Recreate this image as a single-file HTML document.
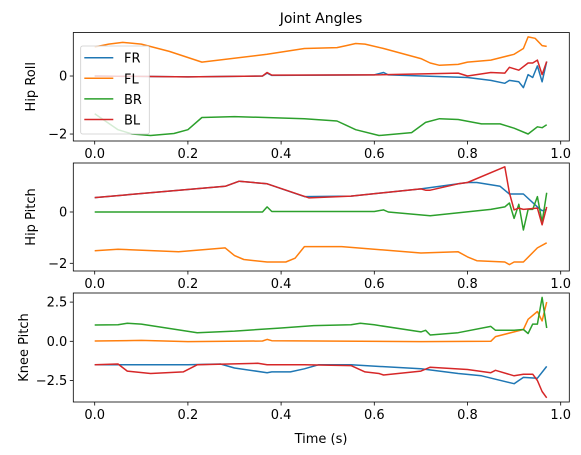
<!DOCTYPE html>
<html><head><meta charset="utf-8"><style>
body{margin:0;background:#fff}
svg{display:block;font-family:"DejaVu Sans","Liberation Sans",sans-serif}
</style></head><body>
<svg id="chart" width="581" height="455" viewBox="0 0 581 455">
<rect width="581" height="455" fill="#fff"/>
<text x="321" y="23" font-size="14" text-anchor="middle">Joint Angles</text>
</svg>
<script>
const tickX=[0,0.2,0.4,0.6,0.8,1.0];
const tickXLabels=["0.0","0.2","0.4","0.6","0.8","1.0"];
const seriesNames=["FR","FL","BR","BL"];
const panelTitles=["Hip Roll","Hip Pitch","Knee Pitch"];
const p1Ticks=[0,-2];const p1TickLabels=["0","−2"];
const p2Ticks=[0,-2];const p2TickLabels=["0","−2"];
const p3Ticks=[2.5,0,-2.5];const p3TickLabels=["2.5","0.0","−2.5"];

const hrFR_t=[0,0.2,0.36,0.37,0.38,0.6,0.62,0.63,0.8,0.85,0.88,0.89,0.91,0.92,0.93,0.94,0.95,0.96,0.97];
const hrFR_v=[0,-0.03,0,0.1,0.02,0.04,0.12,0.04,-0.05,-0.15,-0.25,-0.15,-0.2,-0.4,0.05,-0.05,0.35,-0.2,0.5];
const hrFL_t=[0,0.03,0.06,0.1,0.16,0.23,0.37,0.45,0.52,0.54,0.56,0.58,0.62,0.7,0.72,0.74,0.78,0.8,0.85,0.9,0.92,0.93,0.945,0.96,0.97];
const hrFL_v=[1.0,1.1,1.16,1.1,0.85,0.48,0.75,0.95,0.98,1.05,1.12,1.1,0.95,0.6,0.45,0.37,0.4,0.48,0.55,0.75,0.95,1.35,1.3,1.05,1.02];
const hrBR_t=[0,0.05,0.08,0.12,0.17,0.2,0.23,0.3,0.45,0.52,0.54,0.56,0.61,0.68,0.71,0.74,0.78,0.83,0.87,0.9,0.93,0.95,0.96,0.97];
const hrBR_v=[-1.3,-1.85,-2.0,-2.05,-1.98,-1.85,-1.43,-1.4,-1.47,-1.55,-1.7,-1.85,-2.05,-1.95,-1.6,-1.47,-1.5,-1.65,-1.65,-1.8,-2.0,-1.75,-1.78,-1.68];
const hrBL_t=[0,0.2,0.36,0.37,0.38,0.6,0.78,0.8,0.85,0.88,0.89,0.91,0.93,0.94,0.95,0.96,0.97];
const hrBL_v=[0,-0.03,0,0.12,0.03,0.04,0.1,0.0,0.12,0.1,0.3,0.2,0.45,0.45,0.55,0.05,0.5];

const hpFR_t=[0,0.28,0.31,0.37,0.45,0.55,0.7,0.8,0.82,0.87,0.89,0.92,0.95,0.96,0.97];
const hpFR_v=[0.56,1.0,1.2,1.1,0.6,0.62,0.9,1.15,1.15,1.0,0.7,0.7,0.2,0.05,0.1];
const hpFL_t=[0,0.05,0.18,0.28,0.3,0.32,0.37,0.41,0.43,0.45,0.53,0.7,0.78,0.8,0.82,0.88,0.89,0.9,0.92,0.95,0.97];
const hpFL_v=[-1.51,-1.45,-1.55,-1.4,-1.7,-1.85,-1.95,-1.95,-1.8,-1.35,-1.35,-1.6,-1.55,-1.75,-1.9,-1.95,-2.05,-1.95,-1.95,-1.4,-1.2];
const hpBR_t=[0,0.36,0.37,0.38,0.6,0.62,0.63,0.72,0.85,0.88,0.89,0.9,0.91,0.92,0.93,0.94,0.95,0.96,0.97];
const hpBR_v=[0,0,0.2,0.02,0.02,0.08,0,-0.15,0.1,0.2,0.35,-0.25,0.3,-0.7,0.1,0.1,0.6,-0.4,0.75];
const hpBL_t=[0,0.28,0.31,0.37,0.46,0.55,0.7,0.71,0.72,0.78,0.8,0.88,0.89,0.9,0.91,0.92,0.95,0.96,0.97];
const hpBL_v=[0.56,1.0,1.2,1.1,0.55,0.62,0.9,0.85,0.85,1.1,1.15,1.76,0.75,0.08,0.15,0.1,0.15,-0.5,0.2];

const kpFR_t=[0,0.2,0.27,0.3,0.37,0.38,0.42,0.45,0.48,0.55,0.7,0.78,0.83,0.9,0.92,0.95,0.97];
const kpFR_v=[-1.5,-1.5,-1.45,-1.7,-2.0,-1.95,-1.95,-1.75,-1.5,-1.5,-1.75,-2.05,-2.2,-2.7,-2.3,-2.35,-1.6];
const kpFL_t=[0,0.1,0.2,0.36,0.37,0.38,0.7,0.85,0.86,0.9,0.92,0.93,0.95,0.96,0.97];
const kpFL_v=[0.02,0.06,-0.02,0.02,0.12,0.04,-0.02,0.0,0.3,0.6,0.75,1.4,1.9,1.3,2.5];
const kpBR_t=[0,0.05,0.07,0.1,0.22,0.3,0.4,0.47,0.55,0.57,0.6,0.7,0.71,0.72,0.78,0.85,0.86,0.9,0.92,0.93,0.94,0.95,0.96,0.97];
const kpBR_v=[1.04,1.05,1.15,1.1,0.55,0.65,0.85,1.0,1.05,1.15,1.05,0.6,0.7,0.4,0.55,0.95,0.7,0.7,0.75,0.5,1.1,1.1,2.8,0.85];
const kpBL_t=[0,0.05,0.07,0.12,0.19,0.22,0.35,0.37,0.45,0.55,0.58,0.61,0.62,0.7,0.72,0.8,0.85,0.86,0.9,0.92,0.94,0.95,0.96,0.97];
const kpBL_v=[-1.5,-1.45,-1.9,-2.05,-1.95,-1.5,-1.4,-1.5,-1.5,-1.55,-1.95,-2.05,-2.15,-1.9,-1.65,-1.8,-2.0,-1.85,-2.2,-2.1,-2.1,-2.5,-3.2,-3.6];

const colors=["#1f77b4","#ff7f0e","#2ca02c","#d62728"];
const NS="http://www.w3.org/2000/svg";
const svg=document.getElementById("chart");
const L=73.3,R=569.3;
function sx(t){return 94.7+t*466;}
function mk(tag,attrs,parent){const e=document.createElementNS(NS,tag);for(const k in attrs)e.setAttribute(k,attrs[k]);(parent||svg).appendChild(e);return e;}

const panels=[
 {top:32.5,bot:141,ymin:-2.24,ymax:1.5,ticks:p1Ticks,labels:p1TickLabels,title:panelTitles[0],key:"hip-roll",
  series:[[hrFR_t,hrFR_v],[hrFL_t,hrFL_v],[hrBR_t,hrBR_v],[hrBL_t,hrBL_v]]},
 {top:163,bot:271,ymin:-2.3,ymax:1.91,ticks:p2Ticks,labels:p2TickLabels,title:panelTitles[1],key:"hip-pitch",
  series:[[hpFR_t,hpFR_v],[hpFL_t,hpFL_v],[hpBR_t,hpBR_v],[hpBL_t,hpBL_v]]},
 {top:293,bot:402,ymin:-3.87,ymax:3.08,ticks:p3Ticks,labels:p3TickLabels,title:panelTitles[2],key:"knee-pitch",
  series:[[kpFR_t,kpFR_v],[kpFL_t,kpFL_v],[kpBR_t,kpBR_v],[kpBL_t,kpBL_v]]}
];

panels.forEach((p,pi)=>{
  const g=mk("g",{});
  
  
  const sy=v=>p.bot-(v-p.ymin)/(p.ymax-p.ymin)*(p.bot-p.top);
  const clipId="clip"+pi;
  const cp=mk("clipPath",{id:clipId},g);
  mk("rect",{x:L,y:p.top,width:R-L,height:p.bot-p.top},cp);
  p.series.forEach((s,si)=>{
    const d=s[0].map((t,i)=>(i?"L":"M")+sx(t).toFixed(1)+","+sy(s[1][i]).toFixed(1)).join("");
    const path=mk("path",{d:d,fill:"none",stroke:colors[si],"stroke-width":"1.5","stroke-linejoin":"round","clip-path":"url(#"+clipId+")"},g);
    
    
  });
  const frame=mk("rect",{x:L,y:p.top,width:R-L,height:p.bot-p.top,fill:"none",stroke:"#000","stroke-width":"0.8"},g);
  
  
  tickX.forEach((t,i)=>{
    mk("line",{x1:sx(t),x2:sx(t),y1:p.bot,y2:p.bot+3.5,stroke:"#000","stroke-width":"0.8"},g);
    const tx=mk("text",{x:sx(t),y:p.bot+17,"font-size":"13","text-anchor":"middle"},g);
    tx.textContent=tickXLabels[i];
    
    
  });
  p.ticks.forEach((v,i)=>{
    mk("line",{x1:L-3.5,x2:L,y1:sy(v),y2:sy(v),stroke:"#000","stroke-width":"0.8"},g);
    const tx=mk("text",{x:L-6,y:sy(v)+4.5,"font-size":"13","text-anchor":"end"},g);
    tx.textContent=p.labels[i];
    
    
  });
  const cy=(p.top+p.bot)/2;
  const yt=mk("text",{x:0,y:0,"font-size":"13","text-anchor":"middle",transform:"translate("+(pi==2?28:35)+","+cy+") rotate(-90)"},g);
  yt.textContent=p.title;
  
  
});

const xt=mk("text",{x:321,y:443,"font-size":"13","text-anchor":"middle"});
xt.textContent="Time (s)";



const lg=mk("g",{});


mk("rect",{x:80.7,y:46,width:68.6,height:88,rx:2,fill:"#fff","fill-opacity":"0.8",stroke:"#ccc","stroke-width":"0.8"},lg);
seriesNames.forEach((n,i)=>{
  const y=57.7+i*20.6;
  const e=mk("g",{},lg);
  
  
  mk("line",{x1:84.3,x2:113.3,y1:y,y2:y,stroke:colors[i],"stroke-width":"1.5"},e);
  const t=mk("text",{x:124,y:y+5,"font-size":"13"},e);
  t.textContent=n;
});
</script>
</body></html>
